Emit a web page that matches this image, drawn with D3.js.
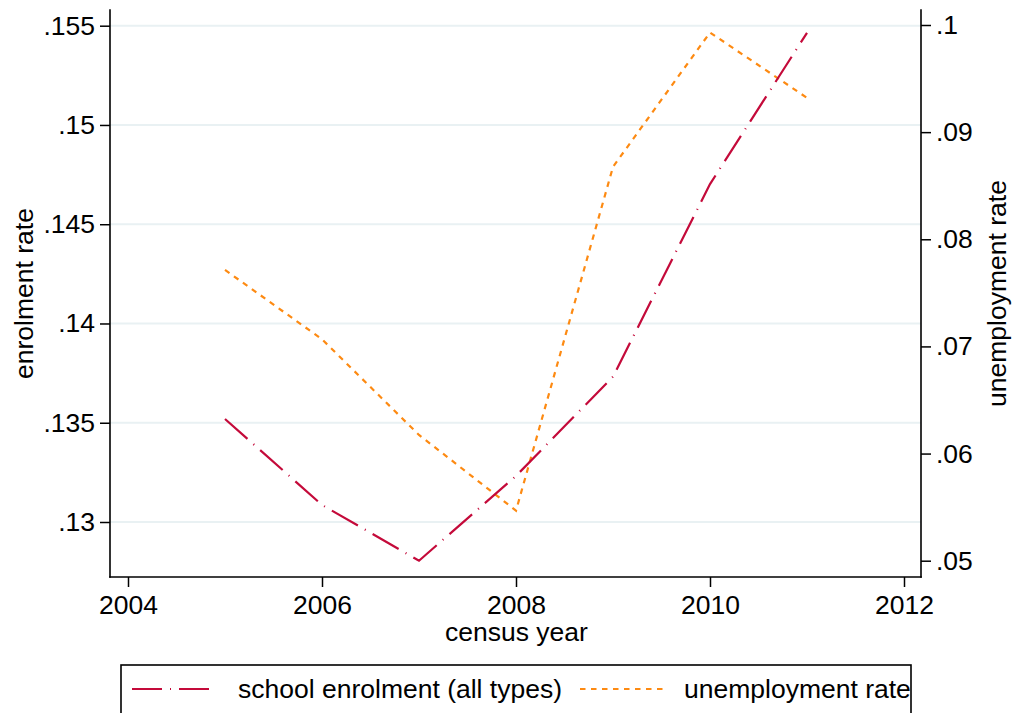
<!DOCTYPE html>
<html>
<head>
<meta charset="utf-8">
<script src="https://cdn.jsdelivr.net/npm/d3@7/dist/d3.min.js"></script>
<style>
  html, body { margin: 0; padding: 0; background: #ffffff; }
  svg { display: block; }
  text { font-family: "Liberation Sans", Arial, Helvetica, sans-serif; fill: #000; }
</style>
</head>
<body>
<svg id="chart" width="1014" height="713"></svg>
<script>
// Census years and the two series
const years = [2005, 2006, 2007, 2008, 2009, 2010, 2011];
const enrolment = [0.13519, 0.13086, 0.12805, 0.13232, 0.13732, 0.14702, 0.15464];
const unemployment = [0.07714, 0.07067, 0.06174, 0.05467, 0.08676, 0.0993, 0.0932];

// Axis ticks
const xTicks = [2004, 2006, 2008, 2010, 2012];
const leftTicks = [0.13, 0.135, 0.14, 0.145, 0.15, 0.155];
const rightTicks = [0.05, 0.06, 0.07, 0.08, 0.09, 0.1];

// Series labels
const seriesNames = ["school enrolment (all types)", "unemployment rate"];

const svg = d3.select("#chart");

// Plot region
const plot = { left: 110, right: 921, top: 10, bottom: 577 };

const x = d3.scaleLinear().domain([2004, 2012]).range([128, 904]);
const yL = d3.scaleLinear().domain([0.13, 0.155]).range([522, 25.7]);
const yR = d3.scaleLinear().domain([0.05, 0.1]).range([560.7, 25]);

// Strip leading zero, Stata style
const fmt = d => {
  const s = String(+d.toFixed(4));
  return s.startsWith("0.") ? s.slice(1) : s;
};

const colEnrol = "#c40a3a";
const colUnemp = "#fd8a12";

// Gridlines from the left axis
svg.append("g")
  .selectAll("line")
  .data(leftTicks)
  .join("line")
  .attr("x1", plot.left).attr("x2", plot.right)
  .attr("y1", d => yL(d)).attr("y2", d => yL(d))
  .attr("stroke", "#e9f1f3")
  .attr("stroke-width", 2);

// Series lines
const lineL = d3.line().x((d, i) => x(years[i])).y(d => yL(d));
const lineR = d3.line().x((d, i) => x(years[i])).y(d => yR(d));

svg.append("path")
  .datum(unemployment)
  .attr("d", lineR)
  .attr("fill", "none")
  .attr("stroke", colUnemp)
  .attr("stroke-width", 2.2)
  .attr("stroke-dasharray", "5.5,5.5");

svg.append("path")
  .datum(enrolment)
  .attr("d", lineL)
  .attr("fill", "none")
  .attr("stroke", colEnrol)
  .attr("stroke-width", 2.2)
  .attr("stroke-dasharray", "30,8,1,8");

// Axes
const tickFont = "26.5px";

const gL = svg.append("g").attr("transform", `translate(${plot.left},0)`)
  .call(d3.axisLeft(yL).tickValues(leftTicks).tickFormat(fmt).tickSize(10).tickPadding(5));
const gR = svg.append("g").attr("transform", `translate(${plot.right},0)`)
  .call(d3.axisRight(yR).tickValues(rightTicks).tickFormat(fmt).tickSize(10).tickPadding(5));
const gB = svg.append("g").attr("transform", `translate(0,${plot.bottom})`)
  .call(d3.axisBottom(x).tickValues(xTicks).tickFormat(d3.format("d")).tickSize(10).tickPadding(8));

[gL, gR, gB].forEach(g => {
  g.select(".domain").remove();
  g.selectAll(".tick line").attr("stroke", "#000").attr("stroke-width", 1.5);
  g.selectAll(".tick text").attr("font-size", tickFont).attr("fill", "#000")
    .style("font-family", "'Liberation Sans', Arial, sans-serif");
});

// Axis lines
const axisLines = [
  [plot.left, plot.top, plot.left, plot.bottom],
  [plot.right, plot.top, plot.right, plot.bottom],
  [plot.left, plot.bottom, plot.right, plot.bottom]
];
svg.append("g").selectAll("line").data(axisLines).join("line")
  .attr("x1", d => d[0]).attr("y1", d => d[1])
  .attr("x2", d => d[2]).attr("y2", d => d[3])
  .attr("stroke", "#000").attr("stroke-width", 1.6)
  .attr("stroke-linecap", "square");

// Axis titles
const midY = (plot.top + plot.bottom) / 2;
svg.append("text")
  .attr("transform", `translate(33,${midY}) rotate(-90)`)
  .attr("text-anchor", "middle")
  .attr("font-size", "26.5px")
  .text("enrolment rate");

svg.append("text")
  .attr("transform", `translate(1006,${midY}) rotate(-90)`)
  .attr("text-anchor", "middle")
  .attr("font-size", "26.5px")
  .text("unemployment rate");

svg.append("text")
  .attr("x", (plot.left + plot.right) / 2 + 1)
  .attr("y", 641)
  .attr("text-anchor", "middle")
  .attr("font-size", "26.5px")
  .text("census year");

// Legend
const legend = svg.append("g");
legend.append("rect")
  .attr("x", 121).attr("y", 665)
  .attr("width", 790).attr("height", 70)
  .attr("fill", "#fff").attr("stroke", "#000").attr("stroke-width", 1.6);

const keys = [
  { x1: 132, x2: 217, tx: 238, color: colEnrol, dash: "30,8,1,8", name: seriesNames[0] },
  { x1: 580, x2: 664, tx: 684, color: colUnemp, dash: "5.5,5.5", name: seriesNames[1] }
];
keys.forEach(k => {
  legend.append("line")
    .attr("x1", k.x1).attr("x2", k.x2)
    .attr("y1", 689).attr("y2", 689)
    .attr("stroke", k.color).attr("stroke-width", 2.2)
    .attr("stroke-dasharray", k.dash);
  legend.append("text")
    .attr("x", k.tx).attr("y", 698)
    .attr("font-size", "26.5px")
    .text(k.name);
});
</script>
</body>
</html>
